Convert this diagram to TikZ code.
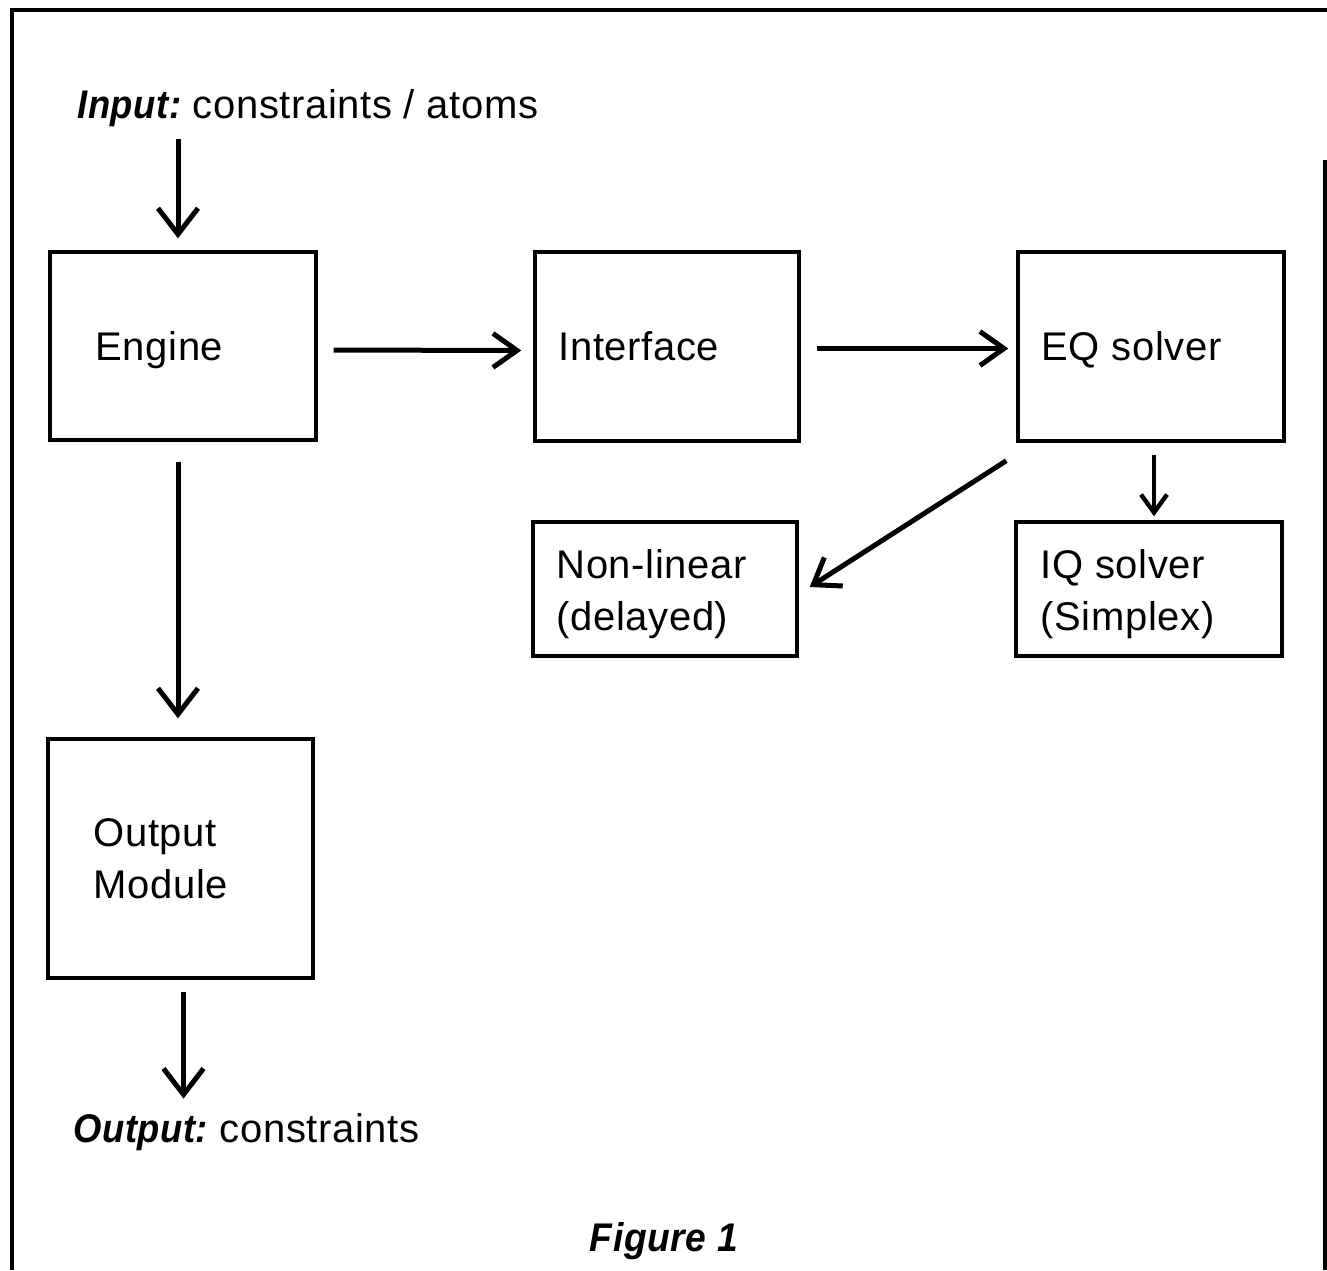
\documentclass[tikz,border=0pt]{standalone}
\usepackage{fontspec}
\usepackage{graphicx}
\setmainfont[LetterSpace=1.5]{Liberation Sans}
\usetikzlibrary{arrows.meta}
\newcommand{\bihead}[1]{\scalebox{0.91}[1]{\bfseries\itshape #1}}
\begin{document}
\begin{tikzpicture}[x=0.5pt,y=-0.5pt,
  box/.style={draw, line width=1.7pt, rectangle, inner sep=0pt},
  lbl/.style={font=\fontsize{20}{26}\selectfont, align=left, inner sep=0pt, anchor=base west},
  mlbl/.style={font=\fontsize{20}{26}\selectfont, align=left, inner sep=0pt, anchor=west},
  arr/.style={line width=2.5pt, -{Straight Barb[length=13pt,width=20pt]}},
  harr/.style={line width=2.5pt, -{Straight Barb[length=12pt,width=17pt]}},
  sarr/.style={line width=2.2pt, -{Straight Barb[length=9pt,width=13pt]}}]
\useasboundingbox (0,0) rectangle (1327,1270);
\draw[line width=1.6pt] (12,1270) -- (12,10) -- (1327,10);
\draw[line width=1.6pt] (1325,160) -- (1325,1270);

% boxes
\node[box, minimum width=133pt, minimum height=94pt] (engine) at (183,346) {};
\node[box, minimum width=132pt, minimum height=94.5pt] (iface) at (667,346.5) {};
\node[box, minimum width=133pt, minimum height=94.5pt] (eq) at (1151,346.5) {};
\node[box, minimum width=132pt, minimum height=67pt] (nl) at (665,589) {};
\node[box, minimum width=133pt, minimum height=67pt] (iq) at (1149,589) {};
\node[box, minimum width=132.5pt, minimum height=119.5pt] (out) at (180.5,858.5) {};

% box texts
\node[lbl] (tengine) at ([xshift=23.5pt]engine.west |- 0,360) {Engine};
\node[lbl] (tiface) at ([xshift=12.5pt]iface.west |- 0,360) {Interface};
\node[lbl] (teq) at ([xshift=12.5pt]eq.west |- 0,360) {EQ solver};
\node[mlbl] (tnl) at ([xshift=12.5pt,yshift=-2.5pt]nl.west) {Non-linear\\(delayed)};
\node[mlbl] (tiq) at ([xshift=13pt,yshift=-2.5pt]iq.west) {IQ solver\\(Simplex)};
\node[mlbl] (tout) at ([xshift=23.5pt]out.west) {Output\\Module};

% free texts
\node[lbl] (input) at (77,118) {\bihead{Input:} constraints / atoms};
\node[lbl] (output) at (73,1142) {\bihead{Output:} constraints};
\node[font=\fontsize{20}{26}\selectfont, inner sep=0pt, anchor=base] (fig) at (664,1251) {\scalebox{0.93}[1]{\bfseries\itshape Figure 1}};

% connectors
\draw[arr, shorten <=6pt, shorten >=6pt] ([xshift=-2.5pt]engine.north |- input.south) -- ([xshift=-2.5pt]engine.north);
\draw[harr, shorten <=8pt, shorten >=6pt] ([yshift=-2pt]engine.east) -- ([yshift=-2pt]iface.west);
\draw[harr, shorten <=8pt, shorten >=4pt] ([yshift=-1pt]iface.east) -- ([yshift=-1pt]eq.west);
\draw[harr] ([xshift=-5pt,yshift=-9pt]eq.south west) -- ([xshift=5.5pt,yshift=1pt]nl.east);
\draw[sarr, shorten <=6pt, shorten >=2pt] ([xshift=1.5pt]eq.south) -- ([xshift=1.5pt]eq.south |- iq.north);
\draw[arr, shorten <=10pt, shorten >=9.5pt] ([xshift=-2.5pt]engine.south) -- ([xshift=-2.5pt]engine.south |- out.north);
\draw[arr, shorten <=6pt, shorten >=7pt] ([xshift=1.5pt]out.south) -- ([xshift=1.5pt]out.south |- output.north);
\end{tikzpicture}
\end{document}
